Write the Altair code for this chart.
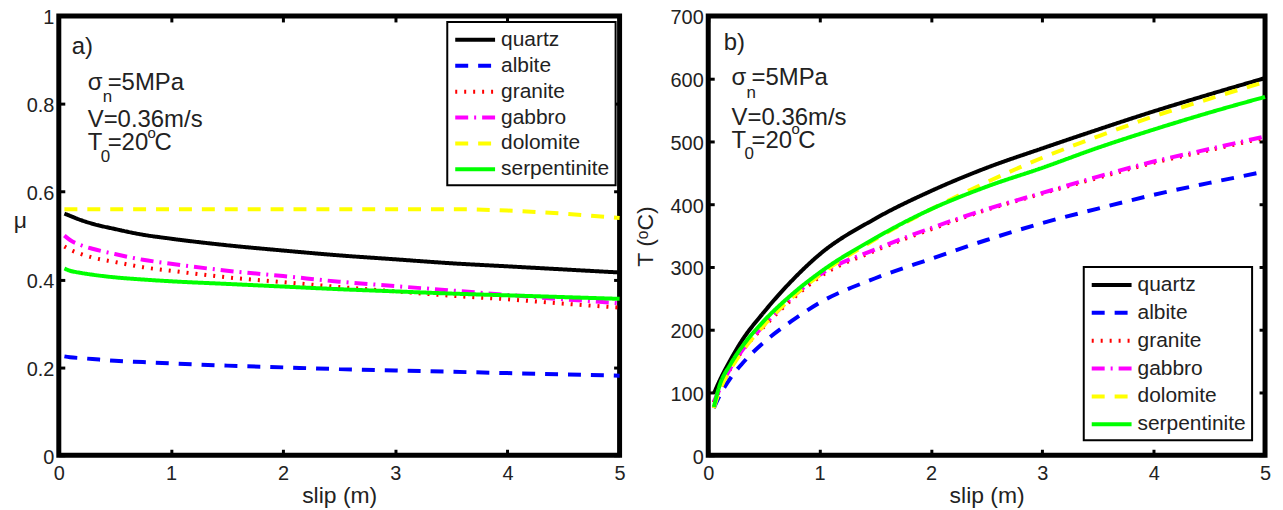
import altair as alt
import pandas as pd

# ---------------- data ----------------
slip = [0.05, 0.1, 0.2, 0.3, 0.5, 0.75, 1, 1.5, 2, 2.5, 3, 3.5, 4, 4.5, 5]
materials = ["quartz", "albite", "granite", "gabbro", "dolomite", "serpentinite"]

mu_quartz = [0.55, 0.545, 0.535, 0.527, 0.515, 0.502, 0.493, 0.478, 0.466, 0.455, 0.446, 0.437, 0.430, 0.423, 0.416]
mu_albite = [0.225, 0.223, 0.221, 0.219, 0.215, 0.212, 0.209, 0.204, 0.200, 0.196, 0.193, 0.190, 0.187, 0.184, 0.181]
mu_granite = [0.475, 0.468, 0.458, 0.450, 0.440, 0.428, 0.420, 0.405, 0.394, 0.383, 0.373, 0.363, 0.355, 0.345, 0.336]
mu_gabbro = [0.500, 0.490, 0.478, 0.470, 0.458, 0.445, 0.436, 0.420, 0.408, 0.395, 0.385, 0.375, 0.365, 0.355, 0.346]
mu_dolomite = [0.56, 0.56, 0.56, 0.56, 0.56, 0.56, 0.56, 0.56, 0.56, 0.56, 0.56, 0.56, 0.557, 0.550, 0.540]
mu_serp = [0.425, 0.420, 0.415, 0.411, 0.405, 0.400, 0.396, 0.390, 0.384, 0.378, 0.373, 0.368, 0.364, 0.360, 0.356]

T_quartz = [98, 118, 152, 182, 228, 278, 320, 377, 421, 458, 489, 519, 548, 575, 601]
T_albite = [75, 94, 123, 145, 180, 214, 243, 282, 313, 343, 370, 393, 415, 434, 452]
T_granite = [84, 103, 138, 165, 205, 248, 284, 326, 360, 391, 417, 442, 466, 486, 506]
T_gabbro = [85, 104, 139, 166, 207, 251, 287, 328, 362, 392, 418, 444, 468, 488, 508]
T_dolomite = [75, 102, 137, 164, 207, 251, 287, 344, 392, 435, 474, 508, 540, 568, 595]
T_serp = [77, 110, 145, 172, 214, 256, 291, 346, 392, 428, 458, 490, 519, 546, 571]

x_ticks = [0, 1, 2, 3, 4, 5]
mu_ticks = [0, 0.2, 0.4, 0.6, 0.8, 1]
T_ticks = [0, 100, 200, 300, 400, 500, 600, 700]

# ---------------- styles ----------------
colors = ["#000000", "#0000ff", "#ff0000", "#ff00ff", "#ffff00", "#00ff00"]
dashes = [[1, 0], [13, 10], [2, 7], [13, 6, 2, 6], [13, 10], [1, 0]]
widths = [4, 4, 2, 4, 4, 4]
FONT = "Liberation Sans"
TXT = "#222222"
LEG_SYMBOL = "M-1,0L3,0"


def long_table(series, col):
    rows = []
    for m, vals in zip(materials, series):
        for i, (s, v) in enumerate(zip(slip, vals)):
            rows.append({"material": m, "slip": s, col: v, "i": i})
    return pd.DataFrame(rows)


df_mu = long_table([mu_quartz, mu_albite, mu_granite, mu_gabbro, mu_dolomite, mu_serp], "mu")
df_T = long_table([T_quartz, T_albite, T_granite, T_gabbro, T_dolomite, T_serp], "T")


def make_panel(df, ycol, ydom, yticks, yfmt, ytitle, tangle, tx, ty, leg_x, leg_y, row_pad, notes, w, h):
    xs = alt.Scale(domain=[0, 5], nice=False, zero=False)
    ys = alt.Scale(domain=ydom, nice=False, zero=False)
    leg = alt.Legend(
        title=None, orient="none", legendX=leg_x, legendY=leg_y,
        symbolType=LEG_SYMBOL, symbolSize=400, symbolStrokeWidth=4,
        labelFontSize=21, labelFont=FONT, labelColor=TXT, labelOffset=24,
        strokeColor="black", fillColor="white", padding=6, rowPadding=row_pad,
    )
    lines = alt.Chart(df).mark_line(strokeCap="butt", interpolate="monotone").encode(
        x=alt.X("slip:Q", scale=xs,
                axis=alt.Axis(values=x_ticks, format="d", title="slip (m)",
                              labelPadding=8, titlePadding=1)),
        y=alt.Y(f"{ycol}:Q", scale=ys,
                axis=alt.Axis(values=yticks, format=yfmt, title=ytitle,
                              titleAngle=tangle, titleX=tx, titleY=ty,
                              titleAlign="center", titleBaseline="alphabetic",
                              labelPadding=5, labelOffset=2)),
        color=alt.Color("material:N", scale=alt.Scale(domain=materials, range=colors), legend=leg),
        strokeDash=alt.StrokeDash("material:N", scale=alt.Scale(domain=materials, range=dashes), legend=leg),
        strokeWidth=alt.StrokeWidth("material:N", scale=alt.Scale(domain=materials, range=widths), legend=None),
        order="i:Q",
    )
    mirror = alt.Chart(df).mark_line(opacity=0).encode(
        x=alt.X("slip:Q", scale=xs, axis=alt.Axis(orient="top", values=x_ticks, labels=False, title=None)),
        y=alt.Y(f"{ycol}:Q", scale=ys, axis=alt.Axis(orient="right", values=yticks, labels=False, title=None)),
    )
    layers = [lines, mirror]
    for text, xv, yv, size, dx in notes:
        nd = pd.DataFrame({"slip": [xv], ycol: [yv], "t": [text]})
        layers.append(
            alt.Chart(nd).mark_text(align="left", baseline="alphabetic", font=FONT,
                                    fontSize=size, color=TXT, dx=dx).encode(
                x=alt.X("slip:Q", scale=xs, axis=None),
                y=alt.Y(f"{ycol}:Q", scale=ys, axis=None),
                text="t:N",
            )
        )
    return alt.layer(*layers).resolve_axis(x="independent", y="independent").properties(width=w, height=h)


notes_a = [
    ("a)", 0.115, 0.913, 24, 0),
    ("σ", 0.258, 0.831, 24, 0),
    ("n", 0.258, 0.804, 17, 15),
    ("=5MPa", 0.258, 0.831, 24, 20),
    ("V=0.36m/s", 0.258, 0.747, 24, 0),
    ("T", 0.258, 0.695, 24, 0),
    ("0", 0.258, 0.668, 17, 13),
    ("=20", 0.258, 0.695, 24, 20),
    ("o", 0.258, 0.722, 15, 60),
    ("C", 0.258, 0.695, 24, 67),
]
notes_b = [
    ("b)", 0.139, 645, 24, 0),
    ("σ", 0.21, 590, 24, 0),
    ("n", 0.21, 570, 17, 15),
    ("=5MPa", 0.21, 590, 24, 20),
    ("V=0.36m/s", 0.21, 526, 24, 0),
    ("T", 0.21, 490, 24, 0),
    ("0", 0.21, 472, 17, 13),
    ("=20", 0.21, 490, 24, 20),
    ("o", 0.21, 512, 15, 60),
    ("C", 0.21, 490, 24, 67),
]

left = make_panel(df_mu, "mu", [0, 1], mu_ticks, ".1~f", "μ", 0, -45, 212,
                  390, 6, 4, notes_a, 563, 441)
right = make_panel(df_T, "T", [0, 700], T_ticks, "d", "T (ᵒC)", 270, -62, 221,
                   377, 252, 6, notes_b, 559, 441)

chart = alt.hconcat(left, right, spacing=89, bounds="flush").resolve_scale(
    color="independent", strokeDash="independent", strokeWidth="independent"
).resolve_legend(color="independent", strokeDash="independent").configure(
    padding={"left": 2, "top": -4, "right": -1, "bottom": 0}
).configure_view(
    stroke="black", strokeWidth=5
).configure_legend(
    strokeWidth=2
).configure_axis(
    domain=False, grid=False, offset=-6, tickSize=6, tickWidth=3, tickColor="black",
    labelFont=FONT, labelFontSize=20, labelColor=TXT, labelFlush=False, labelOverlap=False,
    titleFont=FONT, titleFontSize=23, titleColor=TXT, titleFontWeight="normal",
)

chart.save("out.html", embed_options={"renderer": "svg", "actions": False})
